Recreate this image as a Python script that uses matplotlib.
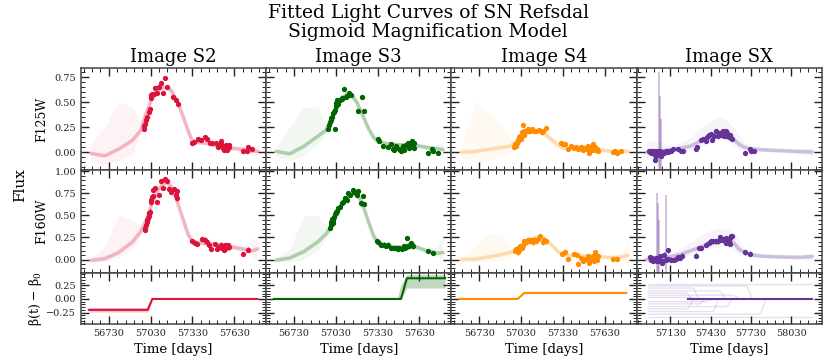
import matplotlib.pyplot as plt
from matplotlib.ticker import MultipleLocator
import numpy as np

plt.rcParams['font.family'] = ['DejaVu Serif']
plt.rcParams['mathtext.fontset'] = 'dejavuserif'

images = ['S2', 'S3', 'S4', 'SX']
filters = ['F125W', 'F160W']
colors = {'S2': 'crimson', 'S3': 'darkgreen', 'S4': 'darkorange', 'SX': 'rebeccapurple'}

# ---- model curves (median + spread of posterior draws) ----
knots = [56600, 56700, 56800, 56900, 56960, 57000, 57040, 57080, 57120, 57150, 57180, 57220,
         57260, 57300, 57330, 57380, 57440, 57500, 57560, 57620, 57690, 57760, 57800]
knots_sx = [56950, 57000, 57040, 57120, 57200, 57280, 57360, 57420, 57480, 57520, 57560, 57600,
            57640, 57680, 57720, 57800, 57900, 58000, 58100, 58185]

s2_f125w_med = [-0.01, -0.035, 0.03, 0.12, 0.22, 0.40, 0.54, 0.62, 0.645, 0.65, 0.61, 0.51, 0.37, 0.21, 0.11, 0.097, 0.09, 0.068, 0.05, 0.04, 0.03, 0.015, 0.01]
s2_f125w_lo = [-0.09, -0.12, -0.08, -0.02, 0.18, 0.37, 0.51, 0.59, 0.615, 0.62, 0.58, 0.48, 0.34, 0.18, 0.085, 0.075, 0.068, 0.048, 0.03, 0.018, 0.005, -0.02, -0.04]
s2_f125w_hi = [0.08, 0.25, 0.50, 0.45, 0.30, 0.43, 0.57, 0.65, 0.675, 0.68, 0.64, 0.54, 0.40, 0.24, 0.135, 0.12, 0.112, 0.09, 0.07, 0.062, 0.055, 0.05, 0.06]
s2_f160w_med = [-0.01, 0.01, 0.08, 0.20, 0.32, 0.45, 0.64, 0.78, 0.86, 0.87, 0.82, 0.66, 0.47, 0.28, 0.21, 0.19, 0.18, 0.17, 0.16, 0.14, 0.12, 0.10, 0.12]
s2_f160w_lo = [-0.02, -0.02, 0.02, 0.12, 0.28, 0.42, 0.61, 0.75, 0.83, 0.84, 0.79, 0.63, 0.44, 0.25, 0.185, 0.165, 0.155, 0.145, 0.135, 0.11, 0.09, 0.04, 0.0]
s2_f160w_hi = [0.01, 0.15, 0.50, 0.45, 0.38, 0.48, 0.67, 0.81, 0.89, 0.90, 0.85, 0.69, 0.50, 0.31, 0.235, 0.215, 0.205, 0.195, 0.185, 0.17, 0.16, 0.20, 0.28]

s3_f125w_med = [0.01, -0.015, 0.06, 0.16, 0.22, 0.33, 0.46, 0.55, 0.585, 0.56, 0.50, 0.38, 0.25, 0.15, 0.113, 0.09, 0.078, 0.074, 0.079, 0.065, 0.048, 0.035, 0.028]
s3_f125w_lo = [-0.05, -0.08, -0.03, 0.08, 0.18, 0.30, 0.43, 0.52, 0.555, 0.53, 0.47, 0.35, 0.22, 0.12, 0.09, 0.068, 0.056, 0.052, 0.057, 0.043, 0.025, 0.0, -0.03]
s3_f125w_hi = [0.05, 0.25, 0.45, 0.45, 0.28, 0.36, 0.49, 0.58, 0.615, 0.59, 0.53, 0.41, 0.28, 0.18, 0.136, 0.112, 0.10, 0.096, 0.101, 0.087, 0.07, 0.07, 0.10]
s3_f160w_med = [-0.007, 0.018, 0.09, 0.20, 0.29, 0.38, 0.535, 0.65, 0.72, 0.745, 0.74, 0.64, 0.45, 0.27, 0.195, 0.165, 0.142, 0.142, 0.168, 0.135, 0.095, 0.072, 0.08]
s3_f160w_lo = [-0.02, -0.03, 0.0, 0.10, 0.24, 0.35, 0.505, 0.62, 0.69, 0.715, 0.71, 0.61, 0.42, 0.24, 0.17, 0.142, 0.12, 0.12, 0.145, 0.11, 0.07, 0.03, 0.0]
s3_f160w_hi = [0.01, 0.12, 0.50, 0.50, 0.38, 0.42, 0.565, 0.68, 0.75, 0.775, 0.77, 0.67, 0.48, 0.30, 0.22, 0.188, 0.165, 0.165, 0.19, 0.16, 0.12, 0.15, 0.30]

s4_f125w_med = [0.0, 0.008, 0.03, 0.05, 0.065, 0.11, 0.16, 0.20, 0.215, 0.215, 0.195, 0.16, 0.115, 0.068, 0.045, 0.038, 0.035, 0.028, 0.037, 0.02, 0.01, 0.01, 0.01]
s4_f125w_lo = [-0.05, -0.10, -0.08, -0.05, 0.02, 0.085, 0.135, 0.175, 0.19, 0.19, 0.17, 0.135, 0.09, 0.045, 0.025, 0.018, 0.015, 0.008, 0.017, 0.0, -0.01, -0.015, -0.025]
s4_f125w_hi = [0.05, 0.50, 0.40, 0.25, 0.12, 0.14, 0.185, 0.225, 0.24, 0.24, 0.22, 0.185, 0.14, 0.09, 0.065, 0.058, 0.055, 0.048, 0.057, 0.04, 0.03, 0.035, 0.045]
s4_f160w_med = [0.0, 0.005, 0.03, 0.06, 0.085, 0.12, 0.16, 0.21, 0.24, 0.258, 0.255, 0.21, 0.15, 0.085, 0.06, 0.05, 0.045, 0.04, 0.035, 0.03, 0.02, 0.03, 0.05]
s4_f160w_lo = [-0.01, -0.03, -0.02, 0.0, 0.05, 0.09, 0.135, 0.185, 0.215, 0.233, 0.23, 0.185, 0.125, 0.06, 0.038, 0.03, 0.025, 0.02, 0.015, 0.008, -0.005, -0.02, -0.05]
s4_f160w_hi = [0.01, 0.15, 0.30, 0.28, 0.15, 0.15, 0.185, 0.235, 0.265, 0.283, 0.28, 0.235, 0.175, 0.11, 0.082, 0.07, 0.065, 0.06, 0.055, 0.052, 0.045, 0.10, 0.20]

sx_f125w_med = [0.0, 0.003, 0.01, 0.022, 0.04, 0.062, 0.115, 0.155, 0.183, 0.19, 0.178, 0.13, 0.08, 0.05, 0.038, 0.027, 0.02, 0.014, 0.008, 0.003]
sx_f125w_lo = [-0.06, -0.06, -0.04, -0.01, 0.0, 0.02, 0.06, 0.10, 0.13, 0.14, 0.12, 0.06, 0.03, 0.02, 0.02, 0.01, 0.0, -0.005, -0.02, -0.04]
sx_f125w_hi = [0.10, 0.12, 0.10, 0.08, 0.09, 0.15, 0.25, 0.30, 0.35, 0.34, 0.30, 0.25, 0.18, 0.10, 0.06, 0.045, 0.035, 0.03, 0.035, 0.05]
sx_f160w_med = [0.0, 0.002, 0.01, 0.03, 0.055, 0.10, 0.145, 0.178, 0.2, 0.21, 0.222, 0.19, 0.12, 0.08, 0.058, 0.04, 0.033, 0.028, 0.026, 0.035]
sx_f160w_lo = [-0.03, -0.03, -0.02, 0.0, 0.02, 0.05, 0.09, 0.12, 0.14, 0.15, 0.15, 0.10, 0.06, 0.04, 0.03, 0.02, 0.015, 0.01, 0.0, -0.02]
sx_f160w_hi = [0.05, 0.06, 0.06, 0.08, 0.12, 0.20, 0.28, 0.33, 0.36, 0.36, 0.34, 0.30, 0.22, 0.12, 0.08, 0.06, 0.05, 0.045, 0.05, 0.07]

# ---- observed photometry ----
s2_f125w_t = [56980, 56984, 56989, 56996, 57004, 57018, 57023, 57030, 57035, 57042, 57054, 57064, 57078, 57090, 57107, 57116, 57131, 57150, 57191, 57215, 57227,
              57330, 57342, 57371, 57395, 57424, 57438, 57455, 57474, 57496, 57515, 57527, 57534, 57539, 57551, 57558, 57563, 57570, 57575, 57580, 57587, 57592, 57596, 57695, 57719, 57731, 57760]
s2_f125w_flux = [0.234, 0.261, 0.282, 0.320, 0.351, 0.405, 0.430, 0.543, 0.570, 0.584, 0.584, 0.639, 0.588, 0.653, 0.687, 0.595, 0.742, 0.646, 0.550, 0.526, 0.481,
                 0.096, 0.103, 0.137, 0.124, 0.148, 0.131, 0.096, 0.096, 0.096, 0.055, 0.069, 0.113, 0.079, 0.045, 0.027, 0.062, 0.069, 0.027, 0.055, 0.045, 0.069, 0.052, 0.017, 0.010, 0.052, 0.038]
s2_f160w_t = [56987, 56992, 56996, 57001, 57006, 57011, 57016, 57020, 57025, 57030, 57035, 57040, 57044, 57049, 57059, 57078, 57088, 57102, 57119, 57131, 57145, 57160, 57179, 57198, 57210, 57220, 57222,
              57330, 57347, 57366, 57400, 57424, 57433, 57448, 57467, 57491, 57510, 57520, 57534, 57544, 57551, 57558, 57563, 57570, 57577, 57587, 57592, 57695, 57731]
s2_f160w_flux = [0.337, 0.363, 0.393, 0.423, 0.449, 0.468, 0.498, 0.524, 0.543, 0.648, 0.674, 0.712, 0.723, 0.787, 0.805, 0.655, 0.730, 0.888, 0.813, 0.910, 0.888, 0.798, 0.768, 0.798, 0.730, 0.775, 0.693,
                 0.206, 0.187, 0.176, 0.236, 0.225, 0.199, 0.169, 0.124, 0.176, 0.124, 0.139, 0.169, 0.131, 0.150, 0.112, 0.161, 0.131, 0.150, 0.161, 0.139, 0.064, 0.112]

s3_f125w_t = [56977, 56982, 56989, 56994, 56999, 57006, 57013, 57018, 57023, 57025, 57030, 57035, 57042, 57049, 57059, 57071, 57078, 57090, 57102, 57114, 57126, 57138, 57186, 57217, 57229,
              57330, 57342, 57366, 57402, 57426, 57438, 57450, 57462, 57486, 57498, 57510, 57522, 57534, 57546, 57551, 57558, 57565, 57570, 57575, 57582, 57589, 57594, 57690, 57719, 57726, 57762]
s3_f125w_flux = [0.234, 0.268, 0.302, 0.320, 0.337, 0.354, 0.388, 0.405, 0.423, 0.234, 0.457, 0.491, 0.526, 0.485, 0.526, 0.543, 0.533, 0.629, 0.553, 0.560, 0.595, 0.567, 0.416, 0.553, 0.416,
                 0.131, 0.113, 0.062, 0.052, 0.079, 0.038, 0.027, 0.062, 0.038, 0.017, 0.062, 0.027, 0.072, 0.062, 0.096, 0.045, 0.079, 0.086, 0.113, 0.079, 0.045, 0.096, -0.007, 0.038, 0.017, -0.007]
s3_f160w_t = [56989, 56994, 56999, 57004, 57008, 57013, 57018, 57023, 57030, 57035, 57042, 57049, 57059, 57071, 57085, 57097, 57109, 57121, 57133, 57150, 57162, 57179, 57193, 57210, 57224, 57229,
              57325, 57335, 57354, 57373, 57390, 57407, 57426, 57445, 57462, 57474, 57486, 57503, 57517, 57527, 57541, 57551, 57558, 57565, 57570, 57575, 57582, 57690, 57726]
s3_f160w_flux = [0.356, 0.393, 0.431, 0.457, 0.449, 0.419, 0.487, 0.517, 0.543, 0.532, 0.554, 0.581, 0.599, 0.637, 0.655, 0.693, 0.674, 0.757, 0.730, 0.787, 0.768, 0.730, 0.779, 0.637, 0.719, 0.629,
                 0.206, 0.195, 0.169, 0.169, 0.157, 0.169, 0.131, 0.131, 0.131, 0.120, 0.131, 0.120, 0.150, 0.131, 0.243, 0.150, 0.157, 0.169, 0.187, 0.169, 0.150, 0.094, 0.075]

s4_f125w_t = [56982, 56989, 56994, 57001, 57006, 57011, 57018, 57025, 57030, 57035, 57042, 57049, 57054, 57066, 57078, 57090, 57097, 57107, 57121, 57138, 57157, 57179, 57191, 57210,
              57318, 57330, 57347, 57366, 57390, 57414, 57426, 57438, 57462, 57474, 57486, 57498, 57510, 57522, 57529, 57534, 57541, 57548, 57553, 57558, 57563, 57570, 57577, 57582, 57690, 57707, 57721, 57750]
s4_f125w_flux = [0.052, 0.079, 0.062, 0.096, 0.113, 0.120, 0.148, 0.165, 0.131, 0.199, 0.268, 0.175, 0.216, 0.210, 0.234, 0.216, 0.210, 0.234, 0.216, 0.210, 0.223, 0.199, 0.210, 0.244,
                 0.096, 0.079, 0.086, 0.038, 0.062, 0.045, 0.052, 0.038, 0.052, 0.027, 0.045, 0.038, 0.062, -0.007, 0.017, 0.045, 0.052, 0.079, 0.038, 0.027, 0.052, 0.038, 0.038, 0.010, 0.003, 0.017, -0.007, 0.010]
s4_f160w_t = [56989, 56994, 57001, 57006, 57011, 57018, 57025, 57035, 57044, 57054, 57066, 57078, 57090, 57102, 57114, 57126, 57138, 57150, 57167, 57186, 57198, 57210,
              57323, 57347, 57366, 57414, 57433, 57443, 57462, 57474, 57486, 57498, 57510, 57517, 57524, 57534, 57541, 57548, 57553, 57558, 57563, 57570, 57577, 57582, 57690, 57721]
s4_f160w_flux = [0.094, 0.120, 0.105, 0.131, 0.082, 0.112, 0.150, 0.131, 0.169, 0.206, 0.195, 0.225, 0.206, 0.217, 0.195, 0.225, 0.206, 0.232, 0.270, 0.195, 0.225, 0.206,
                 0.067, 0.082, 0.007, 0.064, 0.056, -0.045, 0.019, -0.019, 0.000, 0.007, 0.037, -0.037, 0.019, -0.007, 0.007, 0.037, -0.019, 0.019, 0.082, 0.007, 0.000, 0.037, 0.007, 0.007]

sx_f125w_t = [56968, 56975, 56983, 56988, 56993, 57000, 57007, 57012, 57017, 57025, 57032, 57037, 57049, 57061, 57074, 57086, 57098, 57110, 57123, 57135, 57147, 57184, 57208, 57221,
              57319, 57331, 57356, 57375, 57392, 57405, 57417, 57429, 57442, 57454, 57466, 57483, 57498, 57508, 57515, 57522, 57527, 57532, 57540, 57547, 57552, 57557, 57564, 57571, 57576, 57581, 57589,
              57687, 57719, 57729, 57753]
sx_f125w_flux = [0.010, 0.003, 0.017, -0.007, 0.010, 0.003, 0.017, -0.024, -0.076, -0.041, 0.010, 0.003, 0.017, -0.041, 0.003, -0.007, 0.010, 0.003, 0.010, 0.017, 0.034, 0.038, 0.017, 0.017,
                 0.038, 0.052, 0.120, 0.131, 0.113, 0.148, 0.175, 0.182, 0.120, 0.165, 0.210, 0.165, 0.189, 0.175, 0.199, 0.210, 0.182, 0.165, 0.216, 0.165, 0.189, 0.175, 0.155, 0.148, 0.175, 0.141, 0.131,
                 -0.007, 0.038, 0.017, 0.010]
sx_f160w_t = [56975, 56983, 56988, 56993, 57000, 57007, 57012, 57017, 57025, 57032, 57037, 57042, 57049, 57056, 57066, 57074, 57086, 57098, 57110, 57115, 57135, 57155, 57172, 57189, 57204, 57213,
              57319, 57343, 57361, 57392, 57417, 57429, 57449, 57466, 57483, 57498, 57515, 57527, 57535, 57540, 57547, 57552, 57557, 57564, 57571, 57576, 57581, 57589, 57687, 57719]
sx_f160w_flux = [0.030, 0.007, 0.000, 0.019, -0.019, 0.007, -0.007, 0.000, 0.015, -0.019, 0.007, 0.000, 0.037, -0.019, -0.037, -0.019, 0.056, 0.000, 0.105, 0.007, 0.000, -0.007, 0.007, 0.030, 0.019, 0.045,
                 0.045, 0.131, 0.131, 0.169, 0.187, 0.206, 0.206, 0.206, 0.206, 0.255, 0.225, 0.232, 0.206, 0.187, 0.243, 0.206, 0.225, 0.195, 0.180, 0.243, 0.262, 0.270, 0.082, 0.067]

# typical photometric uncertainty per filter, plus the few very noisy SX epochs
typ_err = {'F125W': 0.02, 'F160W': 0.025}
sx_f125w_noisy_t = [57042, 57049, 57061]
sx_f125w_noisy_flux = [0.0, 0.0, -0.04]
sx_f125w_noisy_err = [0.80, 0.56, 0.37]
sx_f160w_noisy_t = [57032, 57037, 57047, 57098]
sx_f160w_noisy_flux = [0.0, 0.0, 0.0, 0.0]
sx_f160w_noisy_err = [0.75, 0.64, 0.45, 0.73]

# ---- magnification change beta(t) - beta0 (step model) ----
s2_beta_t = [56586, 57000, 57010, 57042, 57798]
s2_beta_med = [-0.20, -0.20, -0.20, 0.0, 0.0]
s2_beta_lo = [-0.24, -0.24, -0.24, -0.01, -0.01]
s2_beta_hi = [-0.16, -0.16, -0.10, 0.01, 0.01]
s3_beta_t = [56586, 57470, 57498, 57541, 57815]
s3_beta_med = [0.0, 0.0, 0.0, 0.38, 0.38]
s3_beta_lo = [-0.005, -0.005, -0.005, 0.20, 0.20]
s3_beta_hi = [0.005, 0.005, 0.26, 0.45, 0.45]
s4_beta_t = [56586, 57000, 57006, 57054, 57786]
s4_beta_med = [0.0, 0.0, 0.0, 0.11, 0.11]
s4_beta_lo = [-0.005, -0.005, -0.005, 0.095, 0.095]
s4_beta_hi = [0.005, 0.005, 0.04, 0.125, 0.125]
sx_beta_t = [57258, 58185]
sx_beta_med = [0.0, 0.0]
# individual SX draws: level before the step, step date, level after
sx_draw_before = [0.27, 0.24, 0.20, 0.15, 0.11, 0.07, 0.03, -0.05, -0.09, -0.14, -0.18, -0.23, -0.28, -0.33]
sx_draw_step = [58300, 57700, 57300, 57500, 57250, 57600, 57280, 57400, 57350, 57550, 57260, 57450, 57800, 58300]
sx_draw_after = [0.27, 0.0, 0.0, 0.0, 0.0, 0.0, 0.0, 0.0, 0.0, 0.0, 0.0, 0.0, 0.0, -0.33]
sx_draw_start, sx_draw_end = 56968, 58185

model = {
    ('S2', 'F125W'): (knots, s2_f125w_med, s2_f125w_lo, s2_f125w_hi),
    ('S2', 'F160W'): (knots, s2_f160w_med, s2_f160w_lo, s2_f160w_hi),
    ('S3', 'F125W'): (knots, s3_f125w_med, s3_f125w_lo, s3_f125w_hi),
    ('S3', 'F160W'): (knots, s3_f160w_med, s3_f160w_lo, s3_f160w_hi),
    ('S4', 'F125W'): (knots, s4_f125w_med, s4_f125w_lo, s4_f125w_hi),
    ('S4', 'F160W'): (knots, s4_f160w_med, s4_f160w_lo, s4_f160w_hi),
    ('SX', 'F125W'): (knots_sx, sx_f125w_med, sx_f125w_lo, sx_f125w_hi),
    ('SX', 'F160W'): (knots_sx, sx_f160w_med, sx_f160w_lo, sx_f160w_hi),
}
obs = {
    ('S2', 'F125W'): (s2_f125w_t, s2_f125w_flux), ('S2', 'F160W'): (s2_f160w_t, s2_f160w_flux),
    ('S3', 'F125W'): (s3_f125w_t, s3_f125w_flux), ('S3', 'F160W'): (s3_f160w_t, s3_f160w_flux),
    ('S4', 'F125W'): (s4_f125w_t, s4_f125w_flux), ('S4', 'F160W'): (s4_f160w_t, s4_f160w_flux),
    ('SX', 'F125W'): (sx_f125w_t, sx_f125w_flux), ('SX', 'F160W'): (sx_f160w_t, sx_f160w_flux),
}
noisy = {
    ('SX', 'F125W'): (sx_f125w_noisy_t, sx_f125w_noisy_flux, sx_f125w_noisy_err),
    ('SX', 'F160W'): (sx_f160w_noisy_t, sx_f160w_noisy_flux, sx_f160w_noisy_err),
}
beta = {
    'S2': (s2_beta_t, s2_beta_med, s2_beta_lo, s2_beta_hi),
    'S3': (s3_beta_t, s3_beta_med, s3_beta_lo, s3_beta_hi),
    'S4': (s4_beta_t, s4_beta_med, s4_beta_lo, s4_beta_hi),
}

fig = plt.figure(figsize=(8.3, 3.63), dpi=100)
gs = fig.add_gridspec(3, 4, height_ratios=[2, 2, 1], left=0.0976, right=0.990,
                      top=0.8127, bottom=0.1074, hspace=0, wspace=0)
axes = np.empty((3, 4), dtype=object)
for r in range(3):
    for c in range(4):
        axes[r, c] = fig.add_subplot(gs[r, c])

ylims = [(-0.18, 0.84), (-0.15, 1.01), (-0.46, 0.48)]

for c, img in enumerate(images):
    col = colors[img]
    for r, filt in enumerate(filters):
        ax = axes[r, c]
        t, med, lo, hi = model[(img, filt)]
        ax.fill_between(t, lo, hi, color=col, alpha=0.05, lw=0)
        ax.plot(t, med, color=col, lw=2.6, alpha=0.28, solid_capstyle='round')
        if (img, filt) in noisy:
            nt, nf, ne = noisy[(img, filt)]
            ax.errorbar(nt, nf, yerr=ne, fmt='none', ecolor=col, elinewidth=1.2, alpha=0.35)
        tt, ff = obs[(img, filt)]
        ax.errorbar(tt, ff, yerr=typ_err[filt], fmt='o', ms=2.8, color=col, mec=col,
                    ecolor=col, elinewidth=0.8, capsize=0)
        if c == 0:
            ax.set_ylabel(filt, fontsize=9)
            ax.yaxis.set_label_coords(-0.175, 0.5)

    ax = axes[2, c]
    if img in beta:
        t, med, lo, hi = beta[img]
        ax.fill_between(t, lo, hi, color=col, alpha=0.25, lw=0)
        ax.plot(t, med, color=col, lw=1.5)
    else:
        for b0, ts, b1 in zip(sx_draw_before, sx_draw_step, sx_draw_after):
            ax.plot([sx_draw_start, min(ts, sx_draw_end), min(ts + 40, sx_draw_end), sx_draw_end],
                    [b0, b0, b1, b1], color=col, lw=1, alpha=0.15)
        ax.plot(sx_beta_t, sx_beta_med, color=col, lw=1.5)
    ax.set_xlabel('Time [days]', fontsize=9.5)
    if c == 0:
        ax.set_ylabel(r'β(t) − β$_0$', fontsize=9)
        ax.yaxis.set_label_coords(-0.2, 0.5)

    axes[0, c].set_title(f'Image {img}', fontsize=13, pad=4)

for r in range(3):
    for c in range(4):
        ax = axes[r, c]
        ax.set_ylim(*ylims[r])
        if c < 3:
            ax.set_xlim(56530, 57860)
            ax.xaxis.set_major_locator(MultipleLocator(300, offset=30))
            ax.xaxis.set_minor_locator(MultipleLocator(60, offset=30))
        else:
            ax.set_xlim(56878, 58255)
            ax.xaxis.set_major_locator(MultipleLocator(300, offset=130))
            ax.xaxis.set_minor_locator(MultipleLocator(60, offset=10))
        ax.yaxis.set_major_locator(MultipleLocator(0.25))
        ax.yaxis.set_minor_locator(MultipleLocator(0.05))
        ax.tick_params(which='both', direction='in', top=True, right=True, labelsize=7, colors='#222222')
        ax.tick_params(which='major', length=6, width=1)
        ax.tick_params(which='minor', length=3, width=0.7)
        for s in ax.spines.values():
            s.set_color('#444444')
            s.set_linewidth(1.1)
        if r < 2:
            ax.tick_params(labelbottom=False)
        if c > 0:
            ax.tick_params(labelleft=False)

fig.text(0.024, 0.49, 'Flux', rotation=90, fontsize=11, va='center', ha='center')
fig.suptitle('Fitted Light Curves of SN Refsdal\nSigmoid Magnification Model',
             x=0.516, y=0.99, fontsize=13.5, linespacing=1.1)

plt.savefig('out.png', dpi=100)
